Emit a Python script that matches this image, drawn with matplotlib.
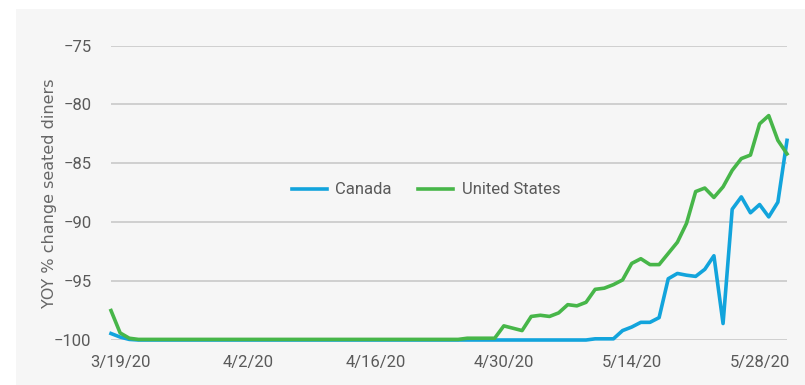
import numpy as np
import pandas as pd
import matplotlib
matplotlib.use("Agg")
import matplotlib.pyplot as plt
import matplotlib.dates as mdates
from matplotlib.patches import Rectangle

# daily YOY % change in seated diners, 3/18/20 - 5/31/20
dates = pd.date_range("2020-03-18", "2020-05-31", freq="D")

canada = [-99.45, -99.75, -99.95] + [-100.0] * 50 + [
    -99.9, -99.9, -99.9, -99.2, -98.9, -98.5, -98.5, -98.1, -94.8,
    -94.35, -94.5, -94.6, -94.0, -92.85, -98.6, -88.9, -87.85, -89.2,
    -88.5, -89.55, -88.3, -83.05,
]

united_states = [-97.5, -99.4, -99.85] + [-99.95] * 36 + [-99.85] * 4 + [
    -98.8, -99.0, -99.2, -98.0, -97.9, -98.0, -97.7, -97.0, -97.1,
    -96.8, -95.7, -95.6, -95.3, -94.9, -93.5, -93.1, -93.6, -93.6,
    -92.65, -91.7, -90.1, -87.4, -87.1, -87.9, -87.0, -85.6, -84.6,
    -84.3, -81.65, -80.95, -83.05, -84.2,
]

y_ticks = [-100, -95, -90, -85, -80, -75]
x_ticks = ["2020-03-19", "2020-04-02", "2020-04-16", "2020-04-30", "2020-05-14", "2020-05-28"]

plt.rcParams['font.family'] = ['Roboto', 'DejaVu Sans']

fig = plt.figure(figsize=(8.05, 3.85), dpi=100, facecolor="white")
# light gray panel behind the chart
fig.patches.append(Rectangle((16 / 805, 0), 1, 1 - 9 / 385, transform=fig.transFigure,
                             facecolor="#f6f6f6", edgecolor="none", zorder=-10))

ax = fig.add_axes([111 / 805, 1 - 340 / 385, 676 / 805, 294.5 / 385])
ax.set_facecolor("none")

ax.plot(dates, canada, color="#12a4dc", lw=2.6, label="Canada", clip_on=False, zorder=3)
ax.plot(dates, united_states, color="#47b649", lw=2.6, label="United States", clip_on=False, zorder=4)

ax.set_xlim(dates[0], dates[-1])
ax.set_ylim(-100, -75)

ax.set_yticks(y_ticks)
ax.set_yticklabels([f"\u2212{abs(v)}" for v in y_ticks])
ax.set_xticks(pd.to_datetime(x_ticks))
ax.xaxis.set_major_formatter(mdates.DateFormatter("%-m/%-d/%y"))

ax.grid(axis="y", color="#c9c9c9", lw=1.2)
ax.set_axisbelow(True)
for s in ax.spines.values():
    s.set_visible(False)
ax.tick_params(axis="both", length=0, labelsize=12, labelcolor="#5a5a5a")
ax.tick_params(axis="y", pad=14)
ax.tick_params(axis="x", pad=11)

ax.set_ylabel("YOY % change seated diners", fontsize=11.5, color="#666666",
              family="DejaVu Sans", labelpad=-2)

fig.legend(loc="center", bbox_to_anchor=(426 / 805, 1 - 190 / 385), ncol=2,
           frameon=False, fontsize=12, labelcolor="#5a5a5a",
           handlelength=2.1, handletextpad=0.5, columnspacing=1.6)

fig.savefig("out.png", dpi=100, facecolor=fig.get_facecolor())
